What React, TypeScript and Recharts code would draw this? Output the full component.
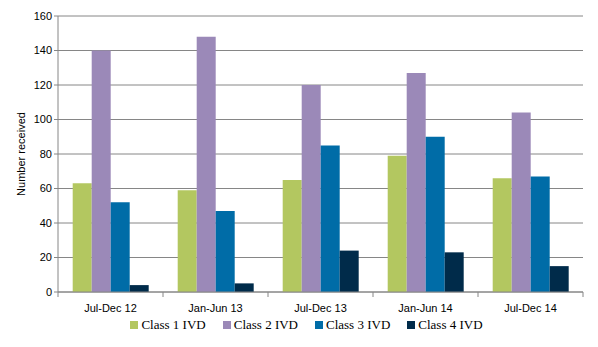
import { Bar, BarChart, CartesianGrid, Legend, XAxis, YAxis } from 'recharts'

const periods = ['Jul-Dec 12', 'Jan-Jun 13', 'Jul-Dec 13', 'Jan-Jun 14', 'Jul-Dec 14']
const class1 = [63, 59, 65, 79, 66]
const class2 = [140, 148, 120, 127, 104]
const class3 = [52, 47, 85, 90, 67]
const class4 = [4, 5, 24, 23, 15]
const yTicks = [0, 20, 40, 60, 80, 100, 120, 140, 160]

const SERIES = [
  { key: 'class1', name: 'Class 1 IVD', color: '#b3c760' },
  { key: 'class2', name: 'Class 2 IVD', color: '#9b89b8' },
  { key: 'class3', name: 'Class 3 IVD', color: '#006ca7' },
  { key: 'class4', name: 'Class 4 IVD', color: '#002b4a' },
]

const data = periods.map((p, i) => ({
  period: p,
  class1: class1[i],
  class2: class2[i],
  class3: class3[i],
  class4: class4[i],
}))

const AXIS = '#868686'
const SANS = 'Arial, "Liberation Sans", sans-serif'

// tick marks sit between categories, not under them
function PeriodTick(props: any) {
  const { x, y, payload, index } = props
  const half = 525 / periods.length / 2
  return (
    <g>
      <line x1={x - half} y1={y - 8} x2={x - half} y2={y - 3} stroke={AXIS} />
      {index === periods.length - 1 && (
        <line x1={x + half} y1={y - 8} x2={x + half} y2={y - 3} stroke={AXIS} />
      )}
      <text x={x} y={y + 12} textAnchor="middle" fontSize={11} fontFamily={SANS} fill="#000">
        {payload.value}
      </text>
    </g>
  )
}

function SerifLegend() {
  return (
    <div style={{ display: 'flex', justifyContent: 'center', gap: 17, paddingLeft: 30 }}>
      {SERIES.map((s) => (
        <div key={s.key} style={{ display: 'flex', alignItems: 'center', gap: 3 }}>
          <div style={{ width: 8, height: 8, backgroundColor: s.color }}></div>
          <span style={{ fontFamily: '"Liberation Serif", "Times New Roman", serif', fontSize: 13, color: '#000' }}>
            {s.name}
          </span>
        </div>
      ))}
    </div>
  )
}

export default function App() {
  return (
    <div style={{ position: 'absolute', left: 0, top: 0, width: 598, height: 347, background: '#fff' }}>
      <BarChart
        width={598}
        height={347}
        data={data}
        margin={{ top: 16, right: 15, left: 0, bottom: 8 }}
        barCategoryGap="14%"
        barGap={0}
      >
        <CartesianGrid vertical={false} stroke={AXIS} strokeWidth={1} />
        <XAxis
          dataKey="period"
          stroke={AXIS}
          tickLine={false}
          tick={<PeriodTick />}
          height={25}
          interval={0}
        />
        <YAxis
          domain={[0, 160]}
          ticks={yTicks}
          width={58}
          stroke={AXIS}
          tickSize={4}
          tick={{ fontSize: 11, fontFamily: SANS, fill: '#000' }}
          label={{
            value: 'Number received',
            angle: -90,
            position: 'insideLeft',
            offset: 21,
            style: { fontSize: 11, fontFamily: SANS, fill: '#000', textAnchor: 'middle' },
          }}
        />
        <Legend verticalAlign="bottom" height={22} content={<SerifLegend />} />
        {SERIES.map((s) => (
          <Bar key={s.key} dataKey={s.key} name={s.name} fill={s.color} isAnimationActive={false} />
        ))}
      </BarChart>
    </div>
  )
}
